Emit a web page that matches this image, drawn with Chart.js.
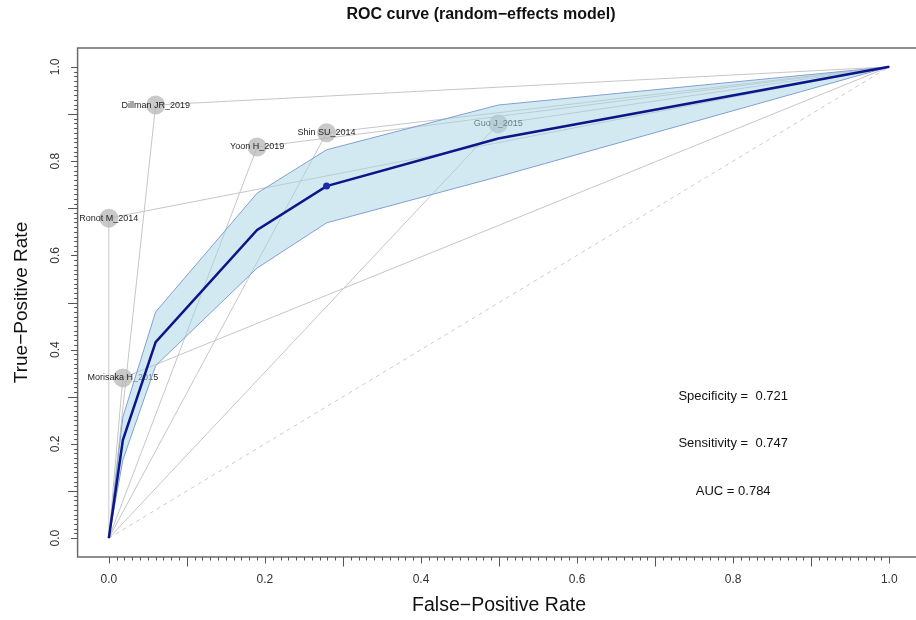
<!DOCTYPE html>
<html lang="en">
<head>
<meta charset="UTF-8">
<title>ROC curve (random-effects model)</title>
<script src="https://cdn.jsdelivr.net/npm/chart.js"></script>
<style>
  html, body { margin: 0; padding: 0; background: #fff; overflow: hidden; }
  #wrap { width: 930px; height: 620px; }
</style>
</head>
<body>
<div id="wrap"><canvas id="rocChart" width="930" height="620"></canvas></div>
<script>
// individual studies (false-positive rate, true-positive rate)
var studyNames = ['Ronot M_2014', 'Morisaka H_2015', 'Dillman JR_2019', 'Yoon H_2019', 'Shin SU_2014', 'Guo J_2015'];
var studyFPR = [0.000, 0.018, 0.060, 0.190, 0.279, 0.499];
var studyTPR = [0.679, 0.340, 0.919, 0.830, 0.860, 0.879];

// summary ROC curve and its confidence band
var srocFPR   = [0, 0.018, 0.060, 0.190, 0.279, 0.499, 1];
var srocTPR   = [0, 0.208, 0.416, 0.654, 0.747, 0.848, 1];
var srocUpper = [0, 0.257, 0.480, 0.732, 0.824, 0.919, 1];
var srocLower = [0, 0.166, 0.366, 0.573, 0.669, 0.767, 1];

// summary operating point
var summaryFPR = [0.279];
var summaryTPR = [0.747];

var statLabels = ['Specificity =  ', 'Sensitivity =  ', 'AUC = '];
var statValues = [0.721, 0.747, 0.784];

var axisTicks = [0, 0.2, 0.4, 0.6, 0.8, 1.0];

var FONT = '"Liberation Sans", Arial, sans-serif';
Chart.defaults.font.family = FONT;

function pts(xs, ys) {
    return xs.map(function (x, i) { return { x: x, y: ys[i] }; });
}

var datasets = [];
datasets.push({ label: 'summary point', data: pts(summaryFPR, summaryTPR), pointRadius: 3.5,
    pointBackgroundColor: '#1a2bb0', pointBorderWidth: 0, order: 0 });
datasets.push({ label: 'SROC', data: pts(srocFPR, srocTPR), showLine: true, borderColor: '#0c168a',
    borderWidth: 2.5, pointRadius: 0, order: 1 });
datasets.push({ label: 'upper', data: pts(srocFPR, srocUpper), showLine: true, borderColor: '#819fd3',
    borderWidth: 1, pointRadius: 0, order: 2 });
datasets.push({ label: 'lower', data: pts(srocFPR, srocLower), showLine: true, borderColor: '#819fd3',
    borderWidth: 1, pointRadius: 0, fill: '-1', backgroundColor: 'rgba(168,212,228,0.52)', order: 2 });
datasets.push({ label: 'studies', data: pts(studyFPR, studyTPR), pointRadius: 9.5,
    pointBackgroundColor: 'rgba(180,180,180,0.72)', pointBorderWidth: 0, order: 3 });
datasets.push({ label: 'chance', data: [{ x: 0, y: 0 }, { x: 1, y: 1 }], showLine: true, borderColor: '#cccccc',
    borderDash: [4, 4], borderWidth: 1, pointRadius: 0, order: 4 });
studyNames.forEach(function (name, i) {
    datasets.push({ label: name, data: [{ x: 0, y: 0 }, { x: studyFPR[i], y: studyTPR[i] }, { x: 1, y: 1 }],
        showLine: true, borderColor: '#c6c6c6', borderWidth: 1, pointRadius: 0, order: 5 });
});
var STUDY_INDEX = 4;

// title, study labels under the band, box, R-style ticks and the summary text
var rocDecor = {
    id: 'rocDecor',
    afterDatasetDraw: function (chart, args) {
        if (args.index !== STUDY_INDEX) return;
        var ctx = chart.ctx, xs = chart.scales.x, ys = chart.scales.y;
        ctx.save();
        ctx.font = '9px ' + FONT;
        ctx.fillStyle = '#1e1e1e';
        ctx.textAlign = 'center';
        ctx.textBaseline = 'middle';
        studyNames.forEach(function (n, i) {
            ctx.fillText(n, xs.getPixelForValue(studyFPR[i]), ys.getPixelForValue(studyTPR[i]));
        });
        ctx.restore();
    },
    afterDraw: function (chart) {
        var ctx = chart.ctx, a = chart.chartArea, xs = chart.scales.x, ys = chart.scales.y;
        ctx.save();
        ctx.font = 'bold 16px ' + FONT;
        ctx.fillStyle = '#111';
        ctx.textAlign = 'center';
        ctx.textBaseline = 'middle';
        ctx.fillText('ROC curve (random\u2212effects model)', 481, 15);

        ctx.strokeStyle = '#6a6a6a';
        ctx.lineWidth = 1.5;
        ctx.strokeRect(a.left, a.top, a.right - a.left, a.bottom - a.top);

        ctx.strokeStyle = '#555';
        ctx.lineWidth = 1;
        ctx.beginPath();
        for (var i = 0; i <= 100; i++) {
            var len = i % 20 === 0 ? 6.5 : (i % 10 === 0 ? 9.5 : 3.5);
            var px = Math.round(xs.getPixelForValue(i / 100)) + 0.5;
            ctx.moveTo(px, a.bottom);
            ctx.lineTo(px, a.bottom + len);
            var py = Math.round(ys.getPixelForValue(i / 100)) + 0.5;
            ctx.moveTo(a.left, py);
            ctx.lineTo(a.left - len, py);
        }
        ctx.stroke();

        ctx.font = '13px ' + FONT;
        ctx.fillStyle = '#111';
        statLabels.forEach(function (s, i) {
            ctx.fillText(s + statValues[i].toFixed(3), xs.getPixelForValue(0.8), ys.getPixelForValue(0.3 - 0.1 * i));
        });
        ctx.restore();
    }
};

var ctx = document.getElementById('rocChart').getContext('2d');
var rocChart = new Chart(ctx, {
    type: 'scatter',
    data: { datasets: datasets },
    options: {
        responsive: false,
        animation: false,
        events: [],
        layout: { padding: { left: 0, right: 5.8, top: 48, bottom: 0 } },
        plugins: {
            legend: { display: false },
            tooltip: { enabled: false },
            title: { display: false }
        },
        scales: {
            x: {
                type: 'linear', min: -0.04, max: 1.04,
                grid: { display: false, drawTicks: false },
                border: { display: false },
                afterBuildTicks: function (s) { s.ticks = axisTicks.map(function (v) { return { value: v }; }); },
                afterFit: function (s) { s.height = 63; },
                ticks: { color: '#333', font: { size: 12 }, padding: 15, maxRotation: 0,
                    callback: function (v) { return v.toFixed(1); } },
                title: { display: true, text: 'False\u2212Positive Rate', color: '#111',
                    font: { size: 19.5 }, padding: { top: 0, bottom: 3 } }
            },
            y: {
                type: 'linear', min: -0.04, max: 1.04,
                grid: { display: false, drawTicks: false },
                border: { display: false },
                afterBuildTicks: function (s) { s.ticks = axisTicks.map(function (v) { return { value: v }; }); },
                afterFit: function (s) { s.width = 77.6; },
                ticks: { color: '#333', font: { size: 12 }, padding: 14, minRotation: 90, maxRotation: 90,
                    crossAlign: 'center', callback: function (v) { return v.toFixed(1); } },
                title: { display: true, text: 'True\u2212Positive Rate', color: '#111',
                    font: { size: 19 }, padding: { top: 10.5, bottom: 0 } }
            }
        }
    },
    plugins: [rocDecor]
});
</script>
</body>
</html>
